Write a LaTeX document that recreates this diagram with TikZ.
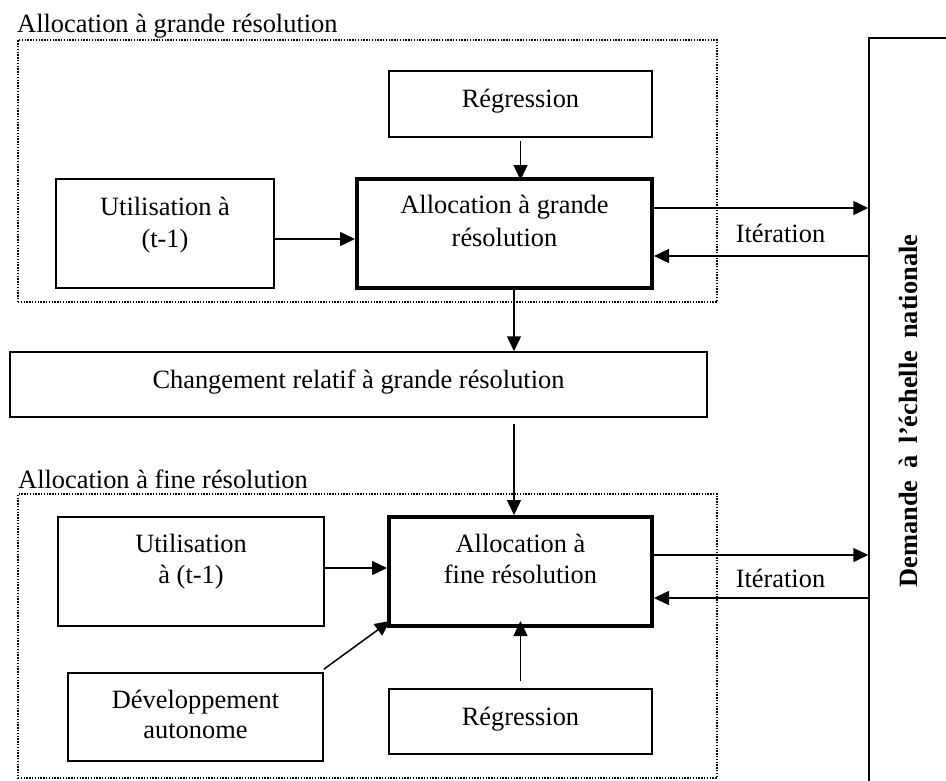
\documentclass[tikz,border=0pt]{standalone}
\usepackage{fontspec}
\setmainfont{Liberation Serif}
\usetikzlibrary{arrows.meta}
\begin{document}
\begin{tikzpicture}[x=1pt,y=-1pt,
  txt/.style={font=\fontsize{26.4}{32}\selectfont, inner sep=0pt, anchor=base},
  boxthin/.style={draw, line width=1.5pt, inner sep=0pt},
  boxthick/.style={draw, line width=4pt, inner sep=0pt},
  grp/.style={draw, line width=1.4pt, dash pattern=on 1.4pt off 1.4pt, inner sep=0pt},
  arr/.style={line width=1.5pt, -{Triangle[length=15pt,width=14pt]}}]
\useasboundingbox (0,0) rectangle (946,780);
% group frames
\node[grp, minimum width=699pt, minimum height=262pt] (grp1) at (367.5,171) {};
\node[grp, minimum width=699pt, minimum height=284pt] (grp2) at (367.5,636) {};
\node[txt, anchor=base west] (lab1) at (17,32) {Allocation à grande résolution};
\node[txt, anchor=base west] (lab2) at (18,488) {Allocation à fine résolution};
% tall box
\begin{scope}
\clip (0,0) rectangle (946,780);
\node[boxthin, minimum width=131pt, minimum height=862pt] (tall) at (934.5,469) {};
\end{scope}
\node[txt, font=\fontsize{26.4}{32}\selectfont\bfseries, rotate=90] (talltxt) at (917,411)
  {Demande\hspace{12pt}à\hspace{12pt}l’échelle\hspace{12pt}nationale};
% upper boxes
\node[boxthin, minimum width=263pt, minimum height=66pt] (reg1) at (520.5,104) {};
\node[txt] (reg1t) at (520.5,107) {Régression};
\node[boxthin, minimum width=218pt, minimum height=109pt] (util1) at (165,233.5) {};
\node[txt] (util1a) at (165,215) {Utilisation à};
\node[txt] (util1b) at (165,247) {(t-1)};
\node[boxthick, minimum width=295pt, minimum height=109pt] (alloc1) at (504.5,233.5) {};
\node[txt] (alloc1a) at (504.5,213) {Allocation à grande};
\node[txt] (alloc1b) at (504.5,246) {résolution};
\node[txt] (iter1) at (780.5,242) {Itération};
% middle
\node[boxthin, minimum width=697pt, minimum height=65pt] (chg) at (358.5,384.5) {};
\node[txt] (chgt) at (358.5,388) {Changement relatif à grande résolution};
% lower boxes
\node[boxthin, minimum width=266pt, minimum height=109pt] (util2) at (191,571.5) {};
\node[txt] (util2a) at (191,552) {Utilisation};
\node[txt] (util2b) at (191,583) {à (t-1)};
\node[boxthick, minimum width=263pt, minimum height=109pt] (alloc2) at (520.5,571.5) {};
\node[txt] (alloc2a) at (520.5,552) {Allocation à};
\node[txt] (alloc2b) at (520.5,583) {fine résolution};
\node[txt] (iter2) at (780.5,587) {Itération};
\node[boxthin, minimum width=255pt, minimum height=88pt] (dev) at (195.5,717) {};
\node[txt] (deva) at (195.5,708) {Développement};
\node[txt] (devb) at (195.5,738) {autonome};
\node[boxthin, minimum width=263pt, minimum height=65pt] (reg2) at (520.5,721.5) {};
\node[txt] (reg2t) at (520.5,725) {Régression};
% connectors
\coordinate (r1s) at ([yshift=-3pt]reg1.south);
\coordinate (a1n) at ([yshift=-3pt]alloc1.north);
\draw[arr] (r1s) -- (r1s |- a1n);
\coordinate (u1e) at ([yshift=-5.5pt]util1.east);
\draw[arr] (u1e) -- (u1e -| alloc1.west);
\coordinate (a1o) at ([yshift=25.5pt]alloc1.east);
\draw[arr] (a1o) -- (a1o -| tall.west);
\coordinate (a1i) at ([yshift=-22.5pt]alloc1.east);
\draw[arr] (a1i -| tall.west) -- (a1i);
\coordinate (c1) at ([xshift=9.5pt]alloc1.south);
\draw[arr] (c1) -- (c1 |- chg.north);
\coordinate (c2) at ([xshift=155.5pt,yshift=-6pt]chg.south);
\draw[arr] (c2) -- (c2 |- alloc2.north);
\coordinate (u2e) at ([yshift=3.5pt]util2.east);
\draw[arr] (u2e) -- (u2e -| alloc2.west);
\coordinate (a2o) at ([yshift=16.5pt]alloc2.east);
\draw[arr] (a2o) -- (a2o -| tall.west);
\coordinate (a2i) at ([yshift=-26.5pt]alloc2.east);
\draw[arr] (a2i -| tall.west) -- (a2i);
\coordinate (dne) at ([yshift=3pt]dev.north east);
\coordinate (a2sw) at ([xshift=3pt,yshift=7pt]alloc2.south west);
\draw[arr] (dne) -- (a2sw);
\coordinate (r2n) at ([yshift=7pt]reg2.north);
\coordinate (a2s) at ([yshift=7pt]alloc2.south);
\draw[arr] (r2n) -- (r2n |- a2s);
\end{tikzpicture}
\end{document}
